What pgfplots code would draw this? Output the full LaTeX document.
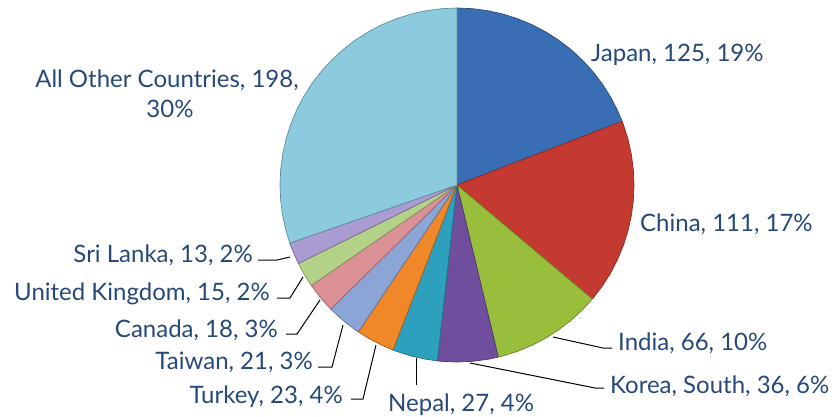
\documentclass[border=0pt]{standalone}
\usepackage{pgfplots}
\pgfplotsset{compat=1.18}
\usepackage{fontspec}
\setmainfont{Lato}
\definecolor{lbl}{RGB}{38,73,122}
\definecolor{cJapan}{RGB}{58,110,180}
\definecolor{cChina}{RGB}{196,58,48}
\definecolor{cIndia}{RGB}{152,190,60}
\definecolor{cKorea}{RGB}{112,78,158}
\definecolor{cNepal}{RGB}{45,160,190}
\definecolor{cTurkey}{RGB}{240,135,40}
\definecolor{cTaiwan}{RGB}{140,165,215}
\definecolor{cCanada}{RGB}{220,145,150}
\definecolor{cUK}{RGB}{180,210,135}
\definecolor{cSri}{RGB}{170,155,210}
\definecolor{cOther}{RGB}{140,203,222}
\tikzset{
  wedge/.style={draw=#1!70!black, line width=0.7pt, fill=#1, line join=round},
  leader/.style={black, line width=1pt},
  lab/.style={font=\fontsize{24}{28}\selectfont, text=lbl, inner sep=0pt},
}
\begin{document}
\begin{tikzpicture}
\begin{axis}[
  x=1pt, y=1pt,
  xmin=-457, xmax=375, ymin=-231, ymax=185,
  hide axis, clip=false,
]
% Values: Japan 125, China 111, India 66, Korea South 36, Nepal 27, Turkey 23,
% Taiwan 21, Canada 18, United Kingdom 15, Sri Lanka 13, All Other 198 (total 653)
% wedges in polar coordinates (angle in degrees, radius)
\addplot[wedge=cJapan, data cs=polar] coordinates {(0,0) (90,177) (85,177) (80,177) (75,177) (70,177) (65,177) (60,177) (55,177) (50,177) (45,177) (40,177) (35,177) (30,177) (25,177) (21.087,177) (0,0)};
\addplot[wedge=cChina, data cs=polar] coordinates {(0,0) (21.087,177) (20,177) (15,177) (10,177) (5,177) (0,177) (-5,177) (-10,177) (-15,177) (-20,177) (-25,177) (-30,177) (-35,177) (-40.108,177) (0,0)};
\addplot[wedge=cIndia, data cs=polar] coordinates {(0,0) (-40.108,177) (-45,177) (-50,177) (-55,177) (-60,177) (-65,177) (-70,177) (-75,177) (-76.494,177) (0,0)};
\addplot[wedge=cKorea, data cs=polar] coordinates {(0,0) (-76.494,177) (-80,177) (-85,177) (-90,177) (-95,177) (-96.341,177) (0,0)};
\addplot[wedge=cNepal, data cs=polar] coordinates {(0,0) (-96.341,177) (-100,177) (-105,177) (-110,177) (-111.226,177) (0,0)};
\addplot[wedge=cTurkey, data cs=polar] coordinates {(0,0) (-111.226,177) (-115,177) (-120,177) (-123.906,177) (0,0)};
\addplot[wedge=cTaiwan, data cs=polar] coordinates {(0,0) (-123.906,177) (-125,177) (-130,177) (-135,177) (-135.483,177) (0,0)};
\addplot[wedge=cCanada, data cs=polar] coordinates {(0,0) (-135.483,177) (-140,177) (-145,177) (-145.406,177) (0,0)};
\addplot[wedge=cUK, data cs=polar] coordinates {(0,0) (-145.406,177) (-150,177) (-153.676,177) (0,0)};
\addplot[wedge=cSri, data cs=polar] coordinates {(0,0) (-153.676,177) (-155,177) (-160,177) (-160.843,177) (0,0)};
\addplot[wedge=cOther, data cs=polar] coordinates {(0,0) (-160.843,177) (-165,177) (-170,177) (-175,177) (-180,177) (-185,177) (-190,177) (-195,177) (-200,177) (-205,177) (-210,177) (-215,177) (-220,177) (-225,177) (-230,177) (-235,177) (-240,177) (-245,177) (-250,177) (-255,177) (-260,177) (-265,177) (-270,177) (0,0)};
% leader lines
\addplot[leader] coordinates {(96,-152) (146,-163) (155,-163)};
\addplot[leader] coordinates {(13,-178) (138,-203) (147,-203)};
\addplot[leader] coordinates {(-41,-173) (-41,-200)};
\addplot[leader] coordinates {(-81,-160) (-94,-214) (-106,-214)};
\addplot[leader] coordinates {(-114,-140) (-125,-182) (-139,-182)};
\addplot[leader] coordinates {(-137,-115) (-160,-149) (-171,-149)};
\addplot[leader] coordinates {(-154,-92) (-167,-113) (-180,-113)};
\addplot[leader] coordinates {(-167,-72) (-180,-75) (-199,-75)};
% labels
\node[lab, anchor=base west] at (axis cs:134,123) {Japan, 125, 19\%};
\node[lab, anchor=base west] at (axis cs:183,-46) {China, 111, 17\%};
\node[lab, anchor=base west] at (axis cs:161,-165) {India, 66, 10\%};
\node[lab, anchor=base west] at (axis cs:153,-208) {Korea, South, 36, 6\%};
\node[lab, anchor=base west] at (axis cs:-69,-226) {Nepal, 27, 4\%};
\node[lab, anchor=base east] at (axis cs:-114,-218) {Turkey, 23, 4\%};
\node[lab, anchor=base east] at (axis cs:-144,-184) {Taiwan, 21, 3\%};
\node[lab, anchor=base east] at (axis cs:-179,-152) {Canada, 18, 3\%};
\node[lab, anchor=base east] at (axis cs:-187,-115) {United Kingdom, 15, 2\%};
\node[lab, anchor=base east] at (axis cs:-204,-77) {Sri Lanka, 13, 2\%};
\node[lab, anchor=base] at (axis cs:-290,97) {All Other Countries, 198,};
\node[lab, anchor=base] at (axis cs:-287,68) {30\%};
\end{axis}
\pgfresetboundingbox
\path[use as bounding box] (current axis.south west) rectangle (current axis.north east);
\end{tikzpicture}
\end{document}
